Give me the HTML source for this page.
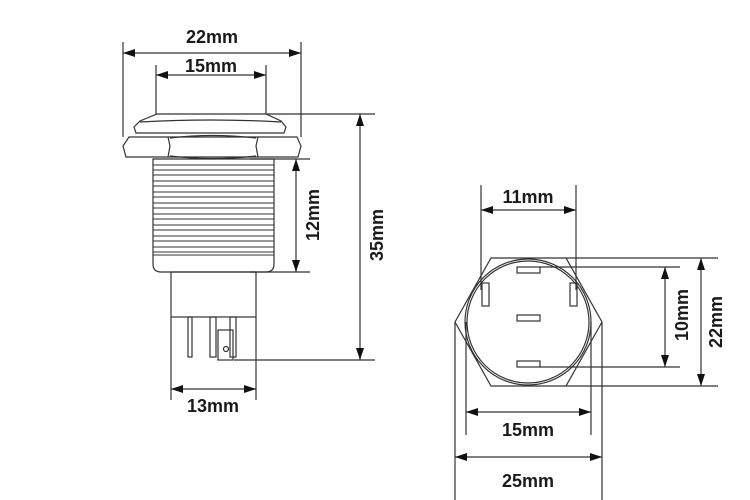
<!DOCTYPE html>
<html><head><meta charset="utf-8"><style>
html,body{margin:0;padding:0;background:#fff;width:750px;height:500px;overflow:hidden}
svg text{font-family:"Liberation Sans",Arial,sans-serif;font-weight:bold;font-size:18px;fill:#1a1a1a}
</style></head><body>
<svg width="750" height="500" viewBox="0 0 750 500" xmlns="http://www.w3.org/2000/svg">
<defs>
<marker id="a" viewBox="0 0 12 8" refX="12" refY="4" markerWidth="13" markerHeight="8" orient="auto-start-reverse" markerUnits="userSpaceOnUse">
<path d="M0,0 L12,4 L0,8 z" fill="#111"/></marker>
</defs>
<g stroke="#333" stroke-width="1.2" fill="none">
<line x1="123" y1="42" x2="123" y2="137"/>
<line x1="301" y1="42" x2="301" y2="137"/>
<line x1="156" y1="65" x2="156" y2="114"/>
<line x1="266" y1="65" x2="266" y2="114"/>
<line x1="266" y1="114" x2="375" y2="114"/>
<line x1="250" y1="159" x2="310" y2="159"/>
<line x1="250" y1="272" x2="310" y2="272"/>
<line x1="234" y1="360" x2="375" y2="360"/>
<line x1="171" y1="317" x2="171" y2="400"/>
<line x1="256" y1="317" x2="256" y2="400"/>
<line x1="123" y1="53" x2="301" y2="53" marker-start="url(#a)" marker-end="url(#a)"/>
<line x1="156" y1="75" x2="266" y2="75" marker-start="url(#a)" marker-end="url(#a)"/>
<line x1="296" y1="159" x2="296" y2="272" marker-start="url(#a)" marker-end="url(#a)"/>
<line x1="360" y1="114" x2="360" y2="360" marker-start="url(#a)" marker-end="url(#a)"/>
<line x1="171" y1="389" x2="256" y2="389" marker-start="url(#a)" marker-end="url(#a)"/>
<path d="M157,114 L266,114 L281,121 L286,127 L284,133 L136,133 L134,127 L140,121 Z"/>
<path d="M140,122 Q212,118 281,122"/>
<path d="M129,137 L297,137 L301,146 L298,157 L126,157 L123,146 Z"/>
<path d="M168,137 L170,146 L168,157 M258,137 L256,146 L258,157"/>
<path d="M170,138 Q212,133 256,138 M170,156 Q212,161 256,156"/>
<path d="M153,159 L274,159 L274,264 Q274,272 266,272 L161,272 Q153,272 153,264 Z"/>
<g stroke-width="0.9">
<line x1="153" y1="165" x2="274" y2="165"/><line x1="153" y1="170" x2="274" y2="170"/>
<line x1="153" y1="175" x2="274" y2="175"/><line x1="153" y1="181" x2="274" y2="181"/>
<line x1="153" y1="186" x2="274" y2="186"/><line x1="153" y1="192" x2="274" y2="192"/>
<line x1="153" y1="197" x2="274" y2="197"/><line x1="153" y1="203" x2="274" y2="203"/>
<line x1="153" y1="208" x2="274" y2="208"/><line x1="153" y1="214" x2="274" y2="214"/>
<line x1="153" y1="219" x2="274" y2="219"/><line x1="153" y1="225" x2="274" y2="225"/>
<line x1="153" y1="230" x2="274" y2="230"/><line x1="153" y1="236" x2="274" y2="236"/>
<line x1="153" y1="241" x2="274" y2="241"/><line x1="153" y1="247" x2="274" y2="247"/>
<line x1="153" y1="252" x2="274" y2="252"/><line x1="153" y1="255" x2="274" y2="255"/>
</g>
<rect x="171" y="272" width="85" height="45"/>
<rect x="188" y="317" width="4" height="40"/>
<rect x="210" y="317" width="6" height="40"/>
<rect x="230" y="317" width="6" height="40"/>
<rect x="218" y="330" width="15" height="30"/>
<circle cx="226" cy="349" r="2.5"/>
<line x1="481" y1="185" x2="481" y2="290"/>
<line x1="576" y1="185" x2="576" y2="290"/>
<line x1="566" y1="258" x2="718" y2="258"/>
<line x1="566" y1="386" x2="718" y2="386"/>
<line x1="540" y1="267" x2="680" y2="267"/>
<line x1="540" y1="367" x2="680" y2="367"/>
<line x1="466" y1="322" x2="466" y2="435"/>
<line x1="591" y1="322" x2="591" y2="435"/>
<line x1="455" y1="322" x2="455" y2="500"/>
<line x1="602" y1="322" x2="602" y2="500"/>
<line x1="481" y1="210" x2="576" y2="210" marker-start="url(#a)" marker-end="url(#a)"/>
<line x1="701" y1="258" x2="701" y2="386" marker-start="url(#a)" marker-end="url(#a)"/>
<line x1="665" y1="267" x2="665" y2="367" marker-start="url(#a)" marker-end="url(#a)"/>
<line x1="466" y1="412" x2="591" y2="412" marker-start="url(#a)" marker-end="url(#a)"/>
<line x1="455" y1="457" x2="602" y2="457" marker-start="url(#a)" marker-end="url(#a)"/>
<path d="M491,258 L566,258 L602,322 L566,386 L491,386 L455,322 Z"/>
<circle cx="528" cy="322" r="63"/>
<circle cx="528" cy="322" r="61"/>
<rect x="517" y="267" width="23" height="6"/>
<rect x="482" y="283" width="7" height="23"/>
<rect x="570" y="283" width="7" height="23"/>
<rect x="517" y="315" width="23" height="6"/>
<rect x="517" y="361" width="23" height="6"/>
</g>
<text x="212" y="43" text-anchor="middle">22mm</text>
<text x="211" y="72" text-anchor="middle">15mm</text>
<text x="213" y="412" text-anchor="middle">13mm</text>
<text transform="translate(319,215) rotate(-90)" text-anchor="middle">12mm</text>
<text transform="translate(383,235) rotate(-90)" text-anchor="middle">35mm</text>
<text x="528" y="203" text-anchor="middle">11mm</text>
<text x="528" y="436" text-anchor="middle">15mm</text>
<text x="528" y="487" text-anchor="middle">25mm</text>
<text transform="translate(688,315) rotate(-90)" text-anchor="middle">10mm</text>
<text transform="translate(722,322) rotate(-90)" text-anchor="middle">22mm</text>
</svg>
</body></html>
